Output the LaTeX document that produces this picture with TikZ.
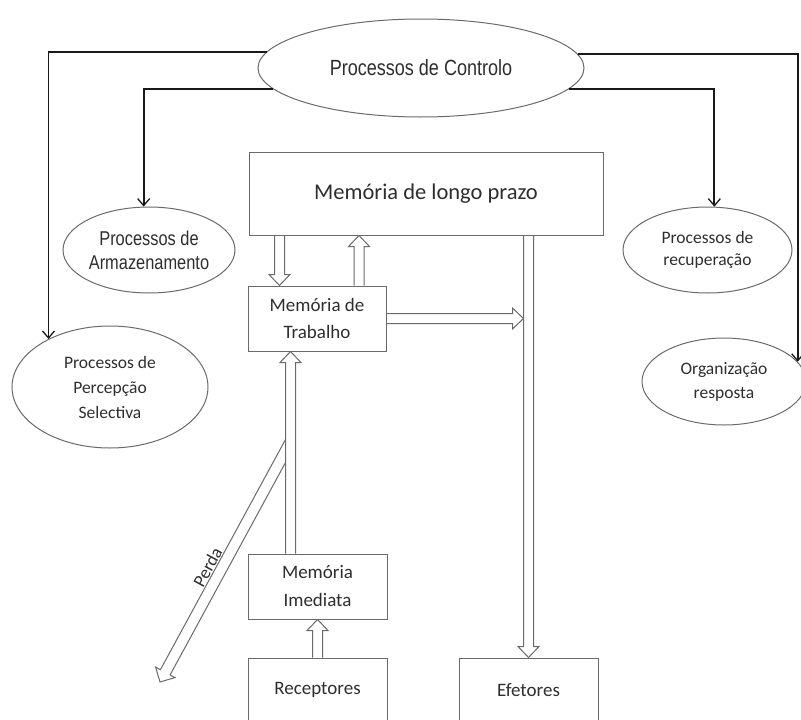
\documentclass[tikz,border=0pt]{standalone}
\usepackage{fontspec}
\setmainfont{Carlito}
\newfontfamily\narrowfont[FakeStretch=0.82]{Liberation Sans}
\usetikzlibrary{shapes.geometric,calc,arrows.meta}

\definecolor{edgegray}{HTML}{6A6A6A}
\definecolor{txtgray}{HTML}{2E2E2E}

% hollow block arrow from #1 (tail) to #2 (tip)
\newcommand{\hollowarrow}[2]{%
  \draw[hollow] ($(#1)!5pt!90:(#2)$) -- ($(#2)!11pt!(#1)!5pt!-90:(#1)$)
    -- ($(#2)!11pt!(#1)!10.5pt!-90:(#1)$) -- (#2)
    -- ($(#2)!11pt!(#1)!10.5pt!90:(#1)$) -- ($(#2)!11pt!(#1)!5pt!90:(#1)$)
    -- ($(#1)!5pt!-90:(#2)$);}

\begin{document}
\begin{tikzpicture}[x=1pt, y=-1pt,
    box/.style={draw=edgegray, line width=1pt, text=txtgray, inner sep=0pt, align=center},
    oval/.style={ellipse, draw=edgegray, line width=1pt, text=txtgray, inner sep=0pt, align=center},
    hollow/.style={draw=edgegray, line width=1pt, line join=miter},
    ctrlline/.style={draw=black!90, line width=1.8pt,
        -{Straight Barb[length=7pt, width=12pt, line width=1.3pt]}}]

    \useasboundingbox (0,0) rectangle (801,720);

    % Ellipses
    \node[oval, minimum width=326pt, minimum height=98pt,
        font=\narrowfont\fontsize{22}{26}\selectfont] (ctrl) at (421,68) {Processos de Controlo};
    \node[oval, minimum width=172pt, minimum height=86pt,
        font=\narrowfont\fontsize{20}{24}\selectfont] (arm) at (149,250) {Processos de\\Armazenamento};
    \node[oval, minimum width=196pt, minimum height=122pt,
        font=\fontsize{17.5}{25}\selectfont] (perc) at (110,387) {Processos de\\Percepção\\Selectiva};
    \node[oval, minimum width=169pt, minimum height=86pt,
        font=\fontsize{17.5}{22}\selectfont] (recup) at (707.5,250) {Processos de\\recuperação};
    \node[oval, minimum width=164pt, minimum height=87pt,
        font=\fontsize{17.5}{24}\selectfont] (org) at (724,381.5) {Organização\\resposta};

    % Boxes
    \node[box, minimum width=354pt, minimum height=83pt,
        font=\fontsize{22.5}{26}\selectfont] (ltm) at (426,193.5) {Memória de longo prazo};
    \node[box, minimum width=138pt, minimum height=65pt,
        font=\fontsize{19}{27}\selectfont] (wm) at (317,318.5) {Memória de\\Trabalho};
    \node[box, minimum width=139pt, minimum height=65pt,
        font=\fontsize{19}{28}\selectfont] (mi) at (317.5,586.5) {Memória\\Imediata};
    \node[box, minimum width=139pt, minimum height=64pt,
        font=\fontsize{19}{23}\selectfont] (rec) at (317.5,690) {Receptores};
    \node[box, minimum width=139pt, minimum height=64pt,
        font=\fontsize{19}{23}\selectfont] (ef) at (528.5,690) {Efetores};

    % Control lines
    \draw[ctrlline] (ctrl.174) -| (perc.142);
    \draw[ctrlline] (ctrl.188) -| (arm.97);
    \draw[ctrlline] (ctrl.352) -| (recup.81);
    \draw[ctrlline] (ctrl.5) -| (org.15);

    % Block arrows
    \coordinate (ltmA) at ([xshift=31pt]ltm.south west);
    \coordinate (wmA) at ([xshift=32pt]wm.north west);
    \coordinate (wmB) at ([xshift=111.5pt]wm.north west);
    \coordinate (ltmB) at ([xshift=110.5pt]ltm.south west);
    \coordinate (effL) at ([xshift=-5pt]ef.north);
    \coordinate (wmOut) at (wm.east -| effL);
    \coordinate (ltmOut) at (ltm.south -| ef.north);
    \coordinate (miUp) at ([xshift=43pt]mi.north west);
    \coordinate (wmIn) at ([xshift=43pt]wm.south west);

    \hollowarrow{ltmA}{wmA}
    \hollowarrow{wmB}{ltmB}
    \hollowarrow{wm.east}{wmOut}
    \hollowarrow{ltmOut}{ef.north}
    \hollowarrow{rec.north}{mi.south}
    \hollowarrow{miUp}{wmIn}

    % Perda
    \coordinate (lossA) at ([xshift=38pt, yshift=114pt]mi.north west);
    \coordinate (lossB) at ([xshift=38pt, yshift=91pt]mi.north west);
    \coordinate (lossM) at ($(lossA)!0.5!(lossB)$);
    \coordinate (lossTip) at (160,682);
    \coordinate (lossP) at ($(lossTip)!11pt!(lossM)!5.5pt!90:(lossM)$);
    \draw[hollow] (lossA) -- (lossP)
        -- ($(lossTip)!11pt!(lossM)!11pt!90:(lossM)$) -- (lossTip)
        -- ($(lossTip)!11pt!(lossM)!11pt!-90:(lossM)$)
        -- ($(lossTip)!11pt!(lossM)!5.5pt!-90:(lossM)$) -- (lossB);
    \path (lossP) -- (lossA) node[pos=0.43, sloped, above, inner sep=1pt,
        text=txtgray, font=\fontsize{18}{20}\selectfont] (lossLabel) {Perda};

\end{tikzpicture}
\end{document}
